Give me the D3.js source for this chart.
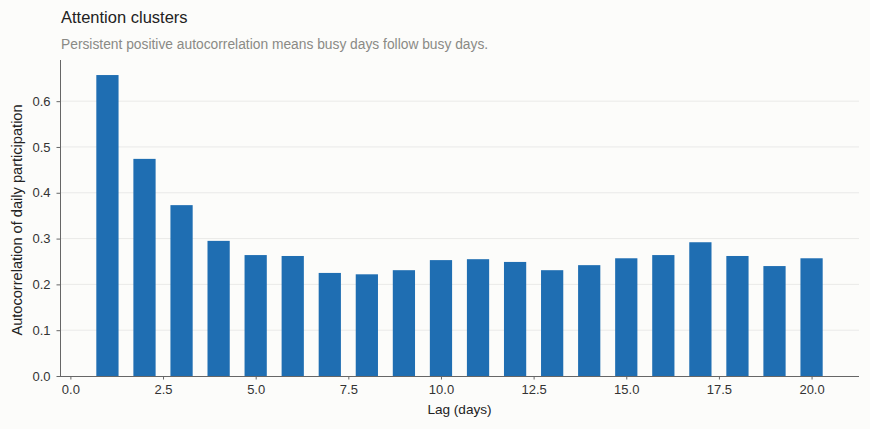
<!DOCTYPE html>
<html>
<head>
<meta charset="utf-8">
<script src="https://cdn.jsdelivr.net/npm/d3@7"></script>
<style>
  html, body { margin: 0; padding: 0; background: #fcfcfa; }
  svg { display: block; font-family: "Liberation Sans", Arial, sans-serif; }
</style>
</head>
<body>
<svg id="chart" width="870" height="429"></svg>
<script>
// data
const lags = [1, 2, 3, 4, 5, 6, 7, 8, 9, 10, 11, 12, 13, 14, 15, 16, 17, 18, 19, 20];
const acf = [0.657, 0.474, 0.373, 0.295, 0.264, 0.262, 0.225, 0.222, 0.231, 0.253,
             0.255, 0.249, 0.231, 0.242, 0.257, 0.264, 0.292, 0.262, 0.240, 0.257];
const xTicks = [0, 2.5, 5, 7.5, 10, 12.5, 15, 17.5, 20];
const yTicks = [0, 0.1, 0.2, 0.3, 0.4, 0.5, 0.6];

const W = 870, H = 429;
const plotL = 60, plotR = 859, plotT = 60, plotB = 376;
const barW = 0.6;

const svg = d3.select('#chart');
svg.append('rect').attr('width', W).attr('height', H).attr('fill', '#fcfcfa');

// matplotlib style 5% margins on the bar extent
const xmin = d3.min(lags) - barW / 2, xmax = d3.max(lags) + barW / 2;
const pad = (xmax - xmin) * 0.05;
const x = d3.scaleLinear().domain([xmin - pad, xmax + pad]).range([plotL, plotR]);
const y = d3.scaleLinear().domain([0, d3.max(acf) * 1.05]).range([plotB, plotT]);

// grid
svg.append('g').selectAll('line').data(yTicks.slice(1)).join('line')
  .attr('x1', plotL).attr('x2', plotR)
  .attr('y1', d => y(d)).attr('y2', d => y(d))
  .attr('stroke', '#e8e8e6').attr('stroke-width', 0.9);

// bars
svg.append('g').selectAll('rect').data(lags).join('rect')
  .attr('x', (d) => x(d - barW / 2))
  .attr('width', d => x(d + barW / 2) - x(d - barW / 2))
  .attr('y', (d, i) => y(acf[i]))
  .attr('height', (d, i) => y(0) - y(acf[i]))
  .attr('fill', '#1f6eb2');

// axes
const xAxis = d3.axisBottom(x).tickValues(xTicks).tickFormat(d3.format('.1f')).tickSize(3.5).tickPadding(5.5);
const yAxis = d3.axisLeft(y).tickValues(yTicks).tickFormat(d3.format('.1f')).tickSize(3.5).tickPadding(6);

const gx = svg.append('g').attr('transform', `translate(0,${plotB})`).call(xAxis);
const gy = svg.append('g').attr('transform', `translate(${plotL},0)`).call(yAxis);

[gx, gy].forEach(g => {
  g.attr('font-size', 13).attr('font-family', '"Liberation Sans", Arial, sans-serif');
  g.select('.domain').attr('stroke', '#666').attr('stroke-width', 1);
  g.selectAll('.tick line').attr('stroke', '#666');
  g.selectAll('.tick text').attr('fill', '#333');
});
gx.select('.domain').attr('d', `M${plotL},0.5H${plotR}`);
gy.select('.domain').attr('d', `M0.5,${plotB}V${plotT}`);

// labels
svg.append('text').attr('x', (plotL + plotR) / 2).attr('y', 414)
  .attr('text-anchor', 'middle').attr('fill', '#222').style('font-size', '13.6px')
  .text('Lag (days)');

svg.append('text').attr('transform', `translate(22,${(plotT + plotB) / 2 + 2}) rotate(-90)`)
  .attr('text-anchor', 'middle').attr('fill', '#222').style('font-size', '14.6px')
  .text('Autocorrelation of daily participation');

svg.append('text').attr('x', 61).attr('y', 23)
  .attr('fill', '#222').style('font-size', '16.5px')
  .text('Attention clusters');

svg.append('text').attr('x', 61).attr('y', 49)
  .attr('fill', '#8a8a85').style('font-size', '13.8px')
  .text('Persistent positive autocorrelation means busy days follow busy days.');
</script>
</body>
</html>
